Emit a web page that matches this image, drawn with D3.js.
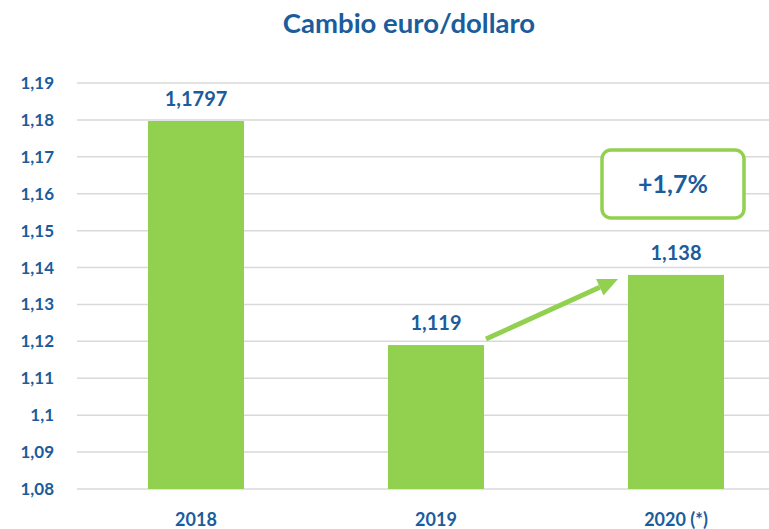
<!DOCTYPE html>
<html>
<head>
<meta charset="utf-8">
<script src="https://cdn.jsdelivr.net/npm/d3@7"></script>
<style>
  body { margin: 0; background: #fff; }
  svg { display: block; font-family: Lato, "Open Sans", sans-serif; }
</style>
</head>
<body>
<svg id="chart" width="769" height="529"></svg>
<script>
var years = ['2018', '2019', '2020 (*)'];
var rates = [1.1797, 1.119, 1.138];
var rateLabels = ['1,1797', '1,119', '1,138'];
var tickValues = [1.08, 1.09, 1.10, 1.11, 1.12, 1.13, 1.14, 1.15, 1.16, 1.17, 1.18, 1.19];
var tickLabels = ['1,08', '1,09', '1,1', '1,11', '1,12', '1,13', '1,14', '1,15', '1,16', '1,17', '1,18', '1,19'];
var changeLabel = '+1,7%';

var blue = '#1b5c9c', green = '#92d050', grid = '#d9d9d9';
var svg = d3.select('#chart');

var x = d3.scaleBand().domain(years).range([76, 796]).paddingInner(0.6).paddingOuter(0.3);
var y = d3.scaleLinear().domain([1.08, 1.19]).range([489, 83]);

svg.append('text')
  .attr('x', 409).attr('y', 33)
  .attr('text-anchor', 'middle')
  .style('font-size', '27.5px').style('font-weight', 'bold').style('fill', blue)
  .text('Cambio euro/dollaro');

// gridlines + y labels
var ticks = svg.append('g');
ticks.selectAll('line').data(tickValues).enter().append('line')
  .attr('x1', 77).attr('x2', 769)
  .attr('y1', function(d) { return y(d); }).attr('y2', function(d) { return y(d); })
  .style('stroke', grid).style('stroke-width', 1.5);
ticks.selectAll('text').data(tickValues).enter().append('text')
  .attr('x', 54).attr('y', function(d) { return y(d) + 6; })
  .attr('text-anchor', 'end')
  .style('font-size', '17px').style('font-weight', 'bold').style('fill', blue)
  .text(function(d, i) { return tickLabels[i]; });

// bars
svg.selectAll('rect.bar').data(rates).enter().append('rect')
  .classed('bar', true)
  .attr('x', function(d, i) { return x(years[i]); })
  .attr('width', x.bandwidth())
  .attr('y', function(d) { return y(d); })
  .attr('height', function(d) { return y(1.08) - y(d); })
  .style('fill', green);

svg.selectAll('text.val').data(rates).enter().append('text')
  .classed('val', true)
  .attr('x', function(d, i) { return x(years[i]) + x.bandwidth() / 2; })
  .attr('y', function(d) { return y(d) - 15; })
  .attr('text-anchor', 'middle')
  .style('font-size', '20px').style('font-weight', 'bold').style('fill', blue)
  .text(function(d, i) { return rateLabels[i]; });

svg.selectAll('text.year').data(years).enter().append('text')
  .classed('year', true)
  .attr('x', function(d) { return x(d) + x.bandwidth() / 2; })
  .attr('y', 526)
  .attr('text-anchor', 'middle')
  .style('font-size', '18px').style('font-weight', 'bold').style('fill', blue)
  .text(function(d) { return d; });

// arrow from 2019 to 2020
var x0 = x(years[1]) + x.bandwidth() + 2, y0 = y(rates[1]) - 6;
var x1 = x(years[2]) - 10, y1 = y(rates[2]) + 4;
var ang = Math.atan2(y1 - y0, x1 - x0);
var headLen = 20, headW = 9;
var bx = x1 - headLen * Math.cos(ang), by = y1 - headLen * Math.sin(ang);
svg.append('line')
  .attr('x1', x0).attr('y1', y0).attr('x2', bx).attr('y2', by)
  .style('stroke', green).style('stroke-width', 5);
svg.append('polygon')
  .attr('points', [
    [x1, y1],
    [bx + headW * Math.sin(ang), by - headW * Math.cos(ang)],
    [bx - headW * Math.sin(ang), by + headW * Math.cos(ang)]
  ].join(' '))
  .style('fill', green);

// change box
var cx = x(years[2]) + x.bandwidth() / 2 - 3;
svg.append('rect')
  .attr('x', cx - 71).attr('y', 150).attr('width', 142).attr('height', 68)
  .attr('rx', 9).attr('ry', 9)
  .style('fill', 'white').style('stroke', green).style('stroke-width', 3.5);
svg.append('text')
  .attr('x', cx).attr('y', 193)
  .attr('text-anchor', 'middle')
  .style('font-size', '25px').style('font-weight', 'bold').style('fill', blue)
  .text(changeLabel);
</script>
</body>
</html>
